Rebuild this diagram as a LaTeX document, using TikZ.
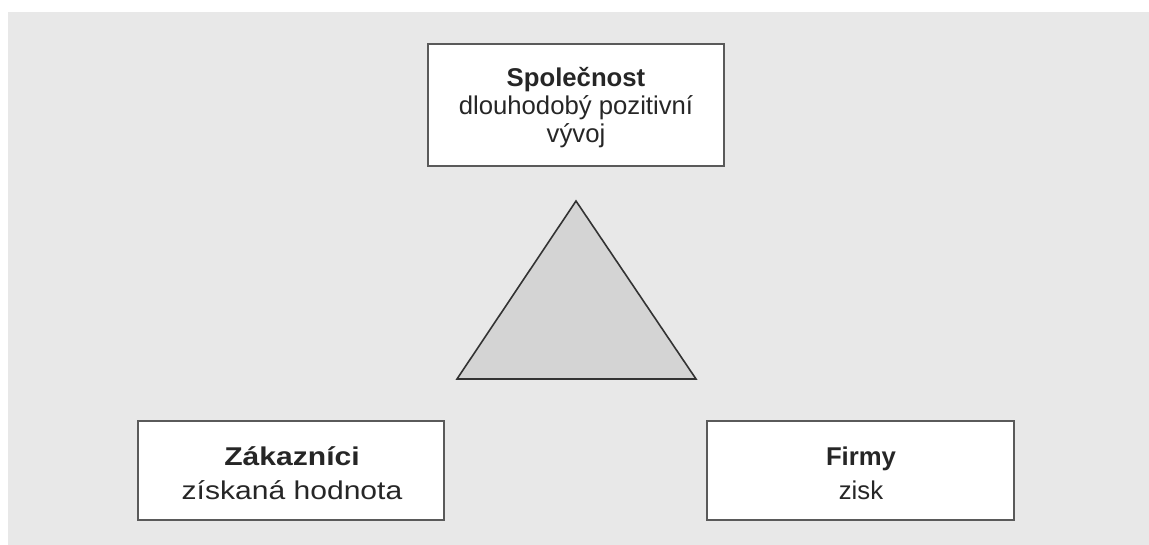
\documentclass[tikz,border=0pt]{standalone}
\usepackage{fontspec}
\setmainfont{Liberation Sans}
\usepackage{graphicx}
\definecolor{bg}{HTML}{E8E8E8}
\definecolor{boxline}{HTML}{5A5A5A}
\definecolor{trifill}{HTML}{D4D4D4}
\definecolor{triline}{HTML}{333333}
\definecolor{txt}{HTML}{262626}
\begin{document}
\begin{tikzpicture}[x=1pt,y=-1pt,
  box/.style={draw=boxline, line width=2pt, fill=white, inner sep=0pt},
  boxtext/.style={align=center, inner sep=0pt, text=txt},
  tri/.style={draw=triline, line width=1.6pt, fill=trifill, line join=miter}]
\useasboundingbox (0,0) rectangle (1149,545);
\fill[bg] (8,12) rectangle (1149,545);
\node[box, minimum width=296pt, minimum height=122pt] (soc) at (576,105) {};
\node[boxtext, font=\fontsize{25.7}{28}\selectfont] (soctext) at (576,108)
  {\textbf{Společnost}\\dlouhodobý pozitivní\\vývoj};
\node[box, minimum width=306pt, minimum height=99pt] (zak) at (291,470.5) {};
\node[boxtext, font=\fontsize{25.7}{34}\selectfont] (zaktext) at (292,473)
  {\scalebox{1.17}[1]{\textbf{Zákazníci}}\\\scalebox{1.17}[1]{získaná hodnota}};
\node[box, minimum width=307pt, minimum height=99pt] (fir) at (860.5,470.5) {};
\node[boxtext, font=\fontsize{25.7}{34}\selectfont] (firtext) at (861,473)
  {\textbf{Firmy}\\zisk};
\coordinate (apex) at (576,201);
\coordinate (bl) at (457,379);
\coordinate (br) at (696,379);
\draw[tri] (apex) -- (br) -- (bl) -- cycle;
\end{tikzpicture}
\end{document}
